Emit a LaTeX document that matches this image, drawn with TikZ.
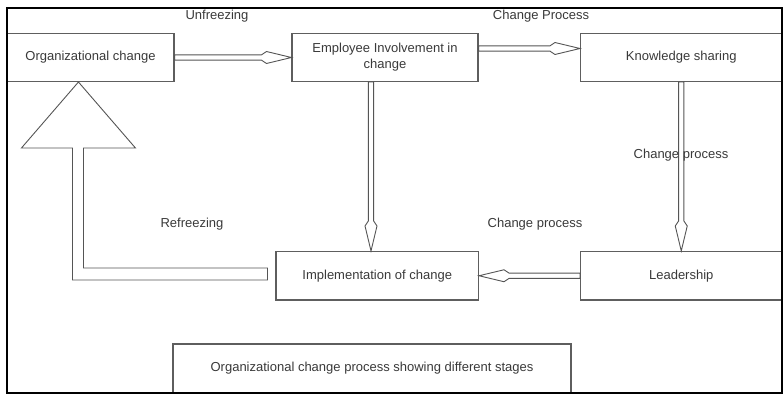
\documentclass[tikz,border=0pt]{standalone}
\usepackage{fontspec}
\setmainfont{Liberation Sans}
\usetikzlibrary{calc}
\definecolor{boxgray}{HTML}{5E5E5E}
\definecolor{arrgray}{HTML}{555555}
\definecolor{txtgray}{HTML}{3A3A3A}
\newcommand\hollowarrow[2]{%
  \draw[arr] let \p1=#1, \p2=#2, \n1={atan2(\y2-\y1,\x2-\x1)}, \n2={veclen(\x2-\x1,\y2-\y1)} in
    [shift={(\p1)}, rotate=\n1] (0,-2.6) -- ({\n2-30},-2.6) -- ({\n2-25},-6) -- (\n2,0) -- ({\n2-25},6) -- ({\n2-30},2.6) -- (0,2.6) -- cycle;}
\begin{document}
\begin{tikzpicture}[x=1pt,y=-1pt,
  box/.style={draw=boxgray, line width=1.1pt, rectangle, inner sep=0pt, text=txtgray,
    font=\fontsize{13}{16}\selectfont, align=center},
  lbl/.style={text=txtgray, font=\fontsize{13}{16}\selectfont, inner sep=0pt},
  arr/.style={draw=arrgray, line width=0.9pt, fill=white, line join=miter}]
\useasboundingbox (0,0) rectangle (783,395);
\fill[white] (0,0) rectangle (783,395);
% boxes
\node[box, minimum width=167pt, minimum height=48pt] (org) at (90.5,57.5) {Organizational change};
\node[box, minimum width=186pt, minimum height=48pt] (emp) at (385,57.5) {Employee Involvement in\\change};
\node[box, minimum width=201.5pt, minimum height=48pt] (know) at (681.25,57.5) {Knowledge sharing};
\node[box, minimum width=201.5pt, minimum height=48.5pt] (lead) at (681.25,275.75) {Leadership};
\node[box, minimum width=202.5pt, minimum height=48.5pt] (impl) at (377.25,275.75) {Implementation of change};
\node[box, minimum width=398pt, minimum height=49pt] (cap) at (372,368.5) {Organizational change process showing different stages};
% arrows
\hollowarrow{(org.east)}{(emp.west)}
\hollowarrow{([yshift=9pt]emp.east)}{([yshift=9pt]know.west)}
\hollowarrow{(know.south)}{(lead.north)}
\hollowarrow{([xshift=-14pt]emp.south)}{([xshift=-6.25pt]impl.north)}
\hollowarrow{(lead.west)}{(impl.east)}
% refreezing arrow
\draw[arr] ([xshift=-8pt,yshift=7.75pt]impl.west) -- ++(-184,0) -- ++(0,-120) -- ++(52,0)
  -- ++(-57,-66) -- ++(-57,66) -- ++(51,0) -- ++(0,132) -- ++(195,0) -- cycle;
% labels
\node[lbl] (l1) at (217,16.5) {Unfreezing};
\node[lbl] (l2) at (541,16.5) {Change Process};
\node[lbl] (l3) at (681,155) {Change process};
\node[lbl] (l4) at (535,224) {Change process};
\node[lbl] (l5) at (192,224.5) {Refreezing};
% frame
\draw[line width=1.6pt] (7,8) rectangle (782,393);
\end{tikzpicture}
\end{document}
